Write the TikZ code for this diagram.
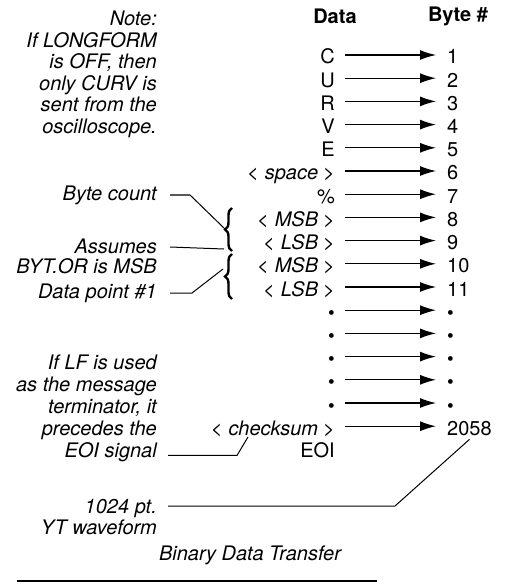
\documentclass[tikz,border=0pt]{standalone}
\usepackage{fontspec}
\setmainfont{TeX Gyre Heros}
\usetikzlibrary{arrows.meta,decorations.pathreplacing}
\newcommand{\dotmark}{{\fontsize{19}{19}\selectfont\textbullet}}
\newcommand{\angled}[1]{\textless\hspace{0.3em}\textit{#1}\hspace{0.25em}\textgreater}
\tikzset{
  every node/.style={inner sep=0pt,font=\fontsize{20}{21.5}\selectfont},
  note/.style={anchor=east,align=right,font=\fontsize{20}{21.5}\selectfont\itshape},
  colhead/.style={font=\fontsize{20}{21.5}\selectfont\bfseries},
  datum/.style={anchor=east,text height=18pt,text depth=0pt},
  bytenum/.style={anchor=west,text height=18pt,text depth=0pt},
  feed/.style={line width=1.25pt,-{Latex[length=16pt,width=10pt]}},
  leader/.style={line width=1pt},
  bigbrace/.style={decorate,decoration={brace,amplitude=7pt},line width=2.4pt}
}
\begin{document}
\begin{tikzpicture}[x=1pt,y=-1pt]
\useasboundingbox (0,0) rectangle (513,585);
\node[colhead] (datahead) at (335,16) {Data};
\node[colhead] (bytehead) at (458,16) {Byte \#};
\foreach \d/\b [count=\i] in {C/1,U/2,R/3,V/4,E/5,{\angled{space}}/6,\%/7,
  {\angled{MSB}}/8,{\angled{LSB}}/9,{\angled{MSB}}/10,{\angled{LSB}}/11,
  \dotmark/\dotmark,\dotmark/\dotmark,\dotmark/\dotmark,\dotmark/\dotmark,\dotmark/\dotmark,
  {\angled{checksum}}/2058}{
  \pgfmathsetmacro{\y}{55+23.2*(\i-1)}
  \node[datum] (d\i) at (335,\y) {\d};
  \node[bytenum] (b\i) at (447,\y) {\b};
  \draw[feed] ([xshift=10pt]d\i.east) -- ([xshift=-11pt]b\i.west);
}
\node[datum] (eoi) at (335,448) {EOI};
% braces round the two byte pairs
\draw[bigbrace] (232,251) -- (232,208);
\draw[bigbrace] (232,299) -- (232,254);
\coordinate (counttip) at (225,229);
\coordinate (bracegap) at (224,249);
\coordinate (pointtip) at (223,269);
\coordinate (sumtail) at (248,437);
\node[note,anchor=north east] (longform) at (157,11) {Note:\\If LONGFORM\\is OFF, then\\only CURV is\\sent from the\\oscilloscope.};
\node[note] (bytecount) at (157,195) {Byte count};
\node[note,anchor=north east,font=\fontsize{20}{19.5}\selectfont\itshape] (assumes) at (157,239) {Assumes\\BYT.OR is MSB};
\node[note] (datapoint) at (157,293) {Data point \#1};
\node[note,anchor=north east,font=\fontsize{20}{22}\selectfont\itshape] (lfnote) at (157,355) {If LF is used\\as the message\\terminator, it\\precedes the\\EOI signal};
\node[note,anchor=north east] (ytnote) at (157,499) {1024 pt.\\YT waveform};
\draw[leader] ([xshift=13pt]bytecount.east) -- ++(20,0) -- (counttip);
\draw[leader] ([shift={(13pt,-8pt)}]assumes.north east) -- (bracegap);
\draw[leader] ([xshift=13pt]datapoint.east) -- ++(22,0) -- (pointtip);
\draw[leader] ([shift={(11pt,7pt)}]lfnote.south east) -- ++(69,0) -- (sumtail);
\draw[leader] ([shift={(11pt,-7pt)}]ytnote.north east) -- ++(227,0) -- ([yshift=-4pt]b17.south);
\node[font=\fontsize{20}{21.5}\selectfont\itshape] (caption) at (250,555) {Binary Data Transfer};
\draw[line width=1.6pt] (17,581) -- (377,581);
\end{tikzpicture}
\end{document}
